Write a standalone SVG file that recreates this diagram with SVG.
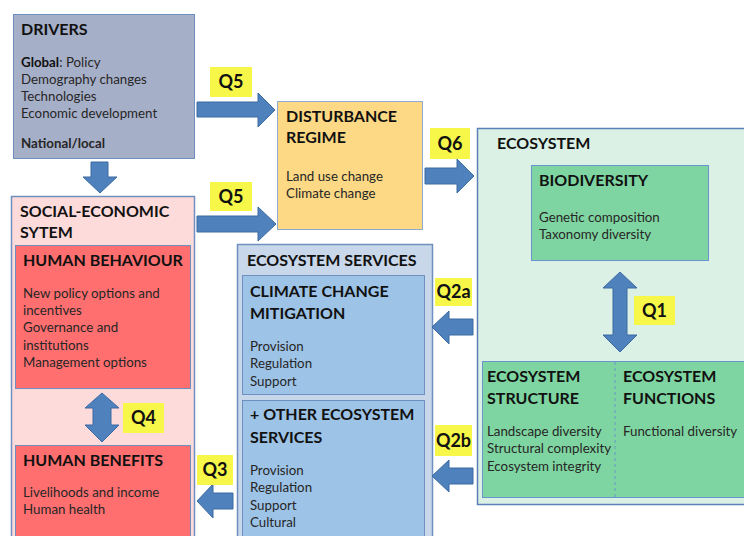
<svg xmlns="http://www.w3.org/2000/svg" width="744" height="536" viewBox="0 0 744 536">
<style>
text{font-family:Lato,"Liberation Sans",Arial,sans-serif;fill:#1a1a1a}
.t{font-size:16px;font-weight:bold;fill:#111}
.b{font-size:13.3px;fill:#262626}
.q{font-size:18px;font-weight:bold;fill:#111;text-anchor:middle}
.ql{fill:#f7f74a}
.arr{fill:#4f81bd;stroke:#3d6ba3;stroke-width:1}
</style>
<rect width="744" height="536" fill="#ffffff"/>

<g id="drivers">
<rect x="13.5" y="14.5" width="181" height="144" fill="#a6afc8" stroke="#6f8fc0"/>
<text class="t" x="21" y="35">DRIVERS</text>
<text class="b" x="21" y="67"><tspan font-weight="bold" fill="#111">Global</tspan>: Policy</text>
<text class="b" x="21" y="84">Demography changes</text>
<text class="b" x="21" y="101">Technologies</text>
<text class="b" x="21" y="118">Economic development</text>
<text class="b" x="21" y="148" font-weight="bold" fill="#111">National/local</text>
</g>

<g id="disturbance">
<rect x="277.5" y="101.5" width="145" height="128" fill="#fdd985" stroke="#8eaad0"/>
<text class="t" x="286" y="122">DISTURBANCE</text>
<text class="t" x="286" y="143">REGIME</text>
<text class="b" x="286" y="181">Land use change</text>
<text class="b" x="286" y="198">Climate change</text>
</g>

<g id="ecosystem">
<rect x="477.5" y="128.5" width="290" height="376" fill="#dcf1e5" stroke="#5b80b8" stroke-width="1.5"/>
<text class="t" x="497" y="149">ECOSYSTEM</text>
</g>

<g id="biodiversity">
<rect x="531.5" y="165.5" width="177" height="95" fill="#7fd5a1" stroke="#6a95cc"/>
<text class="t" x="539" y="186">BIODIVERSITY</text>
<text class="b" x="539" y="222">Genetic composition</text>
<text class="b" x="539" y="239">Taxonomy diversity</text>
</g>

<g id="eco-structure-functions">
<rect x="482.5" y="361.5" width="280" height="136" fill="#7fd5a1" stroke="#6a95cc"/>
<line x1="615" y1="362" x2="615" y2="497" stroke="#6a95cc" stroke-dasharray="3,3"/>
<text class="t" x="487" y="382">ECOSYSTEM</text>
<text class="t" x="487" y="404">STRUCTURE</text>
<text class="b" x="487" y="436">Landscape diversity</text>
<text class="b" x="487" y="453">Structural complexity</text>
<text class="b" x="487" y="471">Ecosystem integrity</text>
<text class="t" x="623" y="382">ECOSYSTEM</text>
<text class="t" x="623" y="404">FUNCTIONS</text>
<text class="b" x="623" y="436">Functional diversity</text>
</g>

<g id="social-economic">
<rect x="11.5" y="196.5" width="183" height="350" fill="#fddbdb" stroke="#6f8fc0" stroke-width="1.5"/>
<text class="t" x="20" y="217">SOCIAL-ECONOMIC</text>
<text class="t" x="20" y="238">SYTEM</text>
</g>

<g id="human-behaviour">
<rect x="15.5" y="245.5" width="175" height="143" fill="#ff6f6f" stroke="#6f8fc0"/>
<text class="t" x="23" y="266">HUMAN BEHAVIOUR</text>
<text class="b" x="23" y="298">New policy options and</text>
<text class="b" x="23" y="315">incentives</text>
<text class="b" x="23" y="332">Governance and</text>
<text class="b" x="23" y="350">institutions</text>
<text class="b" x="23" y="367">Management options</text>
</g>

<g id="human-benefits">
<rect x="15.5" y="445.5" width="175" height="100" fill="#ff6f6f" stroke="#6f8fc0"/>
<text class="t" x="23" y="466">HUMAN BENEFITS</text>
<text class="b" x="23" y="497">Livelihoods and income</text>
<text class="b" x="23" y="514">Human health</text>
</g>

<g id="ecosystem-services">
<rect x="237.5" y="244.5" width="195" height="300" fill="#c9d7ea" stroke="#6f8fc0" stroke-width="1.5"/>
<text class="t" x="247" y="266">ECOSYSTEM SERVICES</text>
</g>

<g id="climate-change-mitigation">
<rect x="242.5" y="275.5" width="182" height="119" fill="#9dc3e6" stroke="#6f8fc0"/>
<text class="t" x="250" y="297">CLIMATE CHANGE</text>
<text class="t" x="250" y="319">MITIGATION</text>
<text class="b" x="250" y="351">Provision</text>
<text class="b" x="250" y="368">Regulation</text>
<text class="b" x="250" y="386">Support</text>
</g>

<g id="other-ecosystem-services">
<rect x="242.5" y="400.5" width="182" height="145" fill="#9dc3e6" stroke="#6f8fc0"/>
<text class="t" x="250" y="420">+ OTHER ECOSYSTEM</text>
<text class="t" x="250" y="443">SERVICES</text>
<text class="b" x="250" y="475">Provision</text>
<text class="b" x="250" y="492">Regulation</text>
<text class="b" x="250" y="510">Support</text>
<text class="b" x="250" y="527">Cultural</text>
</g>

<g id="connectors">
<polygon class="arr" points="91,162 108,162 108,177 117,177 100,193 83,177 91,177"/>
<polygon class="arr" points="197,102 258,102 258,93 275,110 258,127 258,117 197,117"/>
<polygon class="arr" points="197,216 258,216 258,207 276,224 258,241 258,232 197,232"/>
<polygon class="arr" points="425,168 457,168 457,159 474,176 457,193 457,184 425,184"/>
<polygon class="arr" points="620,272 637,288 627,288 627,335 637,335 620,352 603,335 613,335 613,288 603,288"/>
<polygon class="arr" points="102,393 119,408 111,408 111,425 119,425 102,442 85,425 93,425 93,408 85,408"/>
<polygon class="arr" points="432,327 449,311 449,319 473,319 473,335 449,335 449,344"/>
<polygon class="arr" points="432,476 449,460 449,468 473,468 473,484 449,484 449,492"/>
<polygon class="arr" points="197,501 213,484 213,493 233,493 233,509 213,509 213,518"/>

<rect class="ql" x="210" y="67" width="42" height="30"/>
<text class="q" x="231" y="88">Q5</text>
<rect class="ql" x="210" y="182" width="42" height="29"/>
<text class="q" x="231" y="203">Q5</text>
<rect class="ql" x="430" y="128" width="40" height="31"/>
<text class="q" x="450" y="150">Q6</text>
<rect class="ql" x="634" y="296" width="41" height="29"/>
<text class="q" x="654.5" y="317">Q1</text>
<rect class="ql" x="435" y="278" width="37" height="28"/>
<text class="q" x="453.5" y="298">Q2a</text>
<rect class="ql" x="435" y="425" width="37" height="31"/>
<text class="q" x="453.5" y="447">Q2b</text>
<rect class="ql" x="123" y="403" width="41" height="30"/>
<text class="q" x="143.5" y="424">Q4</text>
<rect class="ql" x="197" y="455" width="36" height="30"/>
<text class="q" x="215" y="476">Q3</text>
</g>
</svg>
